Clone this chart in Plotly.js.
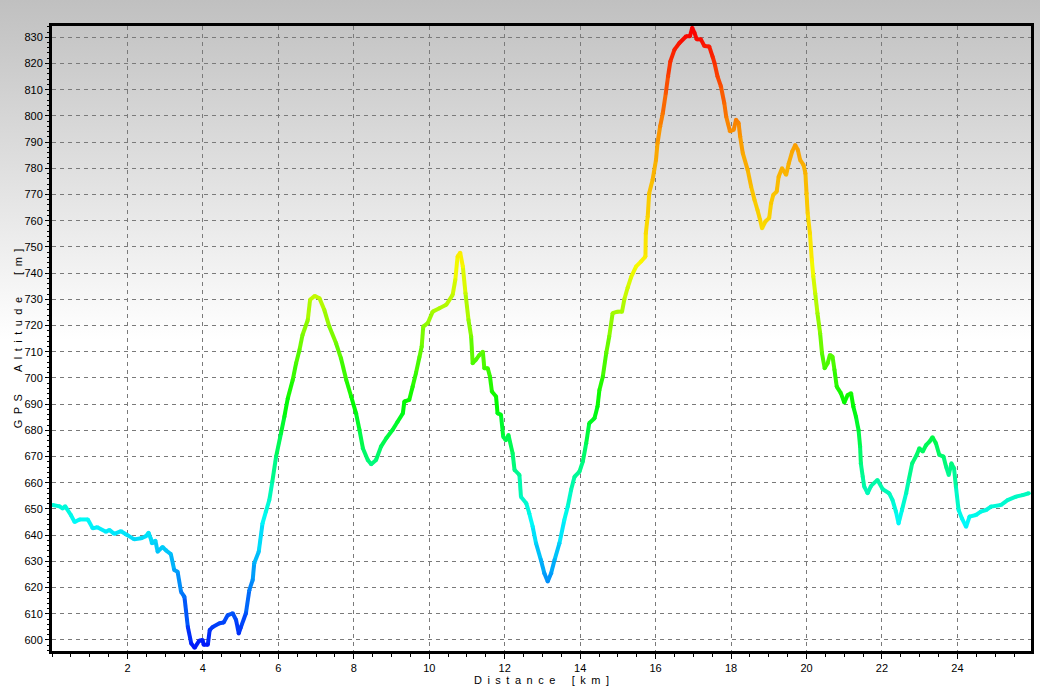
<!DOCTYPE html>
<html>
<head>
<meta charset="utf-8">
<script src="https://cdn.plot.ly/plotly-3.0.1.min.js"></script>
<style>
  html, body { margin: 0; padding: 0; }
  body { width: 1040px; height: 686px; background: linear-gradient(to bottom, #c0c0c0 0px, #ffffff 340px, #ffffff 686px); }
  #chart { width: 1040px; height: 686px; }
</style>
</head>
<body>
<div id="chart"></div>
<script>
// Distance along the track (km)
const distanceKm = [
  0.02,0.2,0.28,0.35,0.5,0.6,0.73,0.95,1.08,1.2,1.43,1.52,1.65,1.83,2.0,2.18,2.36,2.49,2.56,2.62,2.65,2.74,2.8,2.93,3.02,3.15,3.24,3.33,3.42,3.51,3.6,3.69,3.78,3.9,3.99,4.02,4.13,4.18,4.26,4.44,4.55,4.66,4.79,4.88,4.95,5.01,5.14,5.23,5.32,5.36,5.48,5.58,5.67,5.76,5.84,
  5.94,6.07,6.16,6.25,6.38,6.47,6.56,6.64,6.78,6.84,6.96,7.09,7.22,7.35,7.53,7.66,7.8,7.93,8.06,8.15,8.24,8.37,8.46,8.59,8.72,8.86,9.03,9.16,9.3,9.34,9.47,9.56,9.65,9.74,9.8,9.84,9.96,
  10.09,10.27,10.45,10.62,10.69,10.75,10.82,10.89,10.96,11.04,11.11,11.15,11.24,11.33,11.42,11.46,11.55,11.61,11.66,11.77,11.81,11.9,11.96,12.03,12.1,12.21,12.26,12.39,12.43,12.57,12.65,12.74,12.83,12.96,13.05,13.14,13.23,13.32,13.45,13.58,13.67,13.76,13.85,13.98,
  14.07,14.16,14.24,14.38,14.46,14.51,14.6,14.69,14.77,14.86,14.99,15.11,15.17,15.26,15.35,15.48,15.61,15.73,15.74,15.79,15.83,15.92,16.01,16.05,16.12,16.19,16.27,16.33,16.39,16.5,16.63,16.81,16.91,16.97,17.03,17.09,17.2,17.29,17.42,17.51,17.56,17.64,17.73,17.82,17.87,17.97,
  18.07,18.13,18.2,18.24,18.31,18.44,18.53,18.62,18.7,18.77,18.82,18.91,19.01,19.06,19.12,19.21,19.26,19.35,19.46,19.53,19.62,19.7,19.77,19.83,19.92,19.97,20.0,20.03,20.09,20.14,20.18,20.23,20.29,20.36,20.41,20.48,20.56,20.62,20.69,20.74,20.8,20.91,21.0,21.09,21.18,
  21.24,21.31,21.38,21.42,21.44,21.49,21.53,21.62,21.71,21.88,22.02,22.19,22.28,22.37,22.44,22.53,22.64,22.71,22.8,22.92,22.99,23.08,23.17,23.26,23.34,23.43,23.52,23.63,23.7,23.77,23.84,23.91,23.96,24.03,24.12,24.23,24.32,24.49,24.62,24.76,24.89,25.15,25.33,25.55,25.73,25.89
];
// GPS altitude (m)
const altitudeM = [
  651.5,651,650.2,651,647.7,645,646,646,642.6,643,641.3,642,640.5,641.5,640,638.4,638.8,639.6,640.9,638.6,636.9,637.9,633.7,635.5,634.2,632.8,626.7,626,618.4,616.5,605,598.7,597,599.7,600,598.2,598.2,603.8,605,606.4,606.7,609.5,610.2,607.6,602.5,605,610.2,619,622.9,629.3,633.7,644.5,649,653.4,660.4,
  670,678.9,685.2,692.2,699.2,705.6,710.7,716.4,722.1,729.8,731.3,730.4,725.9,719.6,713.2,707.5,699.2,692.9,686.5,680.2,673.2,668.7,667.1,668.7,673.8,677,680.2,683.3,686.5,691,691.6,696.7,702,708,712,719.6,720.9,
  725.3,726.6,727.9,731.7,737.4,746.3,747.8,742.5,732.3,722.1,715.8,705.6,707,708.8,710,703.7,703.7,700.5,694.8,692.9,686.5,686,677.6,676.2,678.2,671.2,664.9,663,654.7,652.2,648.4,643.3,636.9,630.5,625.5,622.3,625.5,630.5,636.9,645.8,650.9,657.3,662.3,664.2,
  668.1,675.1,682.7,684.6,689.1,695.4,700.5,709.4,715.8,724.7,725.3,725.3,730,734.5,738.5,742.5,744.4,746.3,755.2,761.6,770.5,775.6,783.2,789.6,796,801,808.7,815.1,820.8,825.3,827.8,830.4,830.4,833.6,831.7,829.2,829.2,826.7,826.5,822.6,820.2,815.1,811.3,804.9,799.8,794.1,
  794.7,798.5,797.3,792.2,785.8,779.4,773.1,768,764.1,760.3,757.1,759.7,761,766.7,769.9,771.1,776.8,780,777.5,781.9,786.4,788.9,787,783.2,781.3,778.1,770.5,762.9,755.2,745,738.7,732.3,724.7,717.1,709.4,703.7,705.6,708.8,708.1,703.1,696.7,694.2,690.6,693.5,694.2,
  689.1,685.2,680,673.8,667.4,662.3,658.5,656,658.8,661.1,657.5,656,653.4,649,644.5,649.6,656,661.1,667.4,670.6,673.2,671.9,674.4,675.7,677.4,675.1,670.6,670,666.1,663,667.4,665.5,658.5,649.6,646.4,643.2,647.1,647.7,649,649.6,650.9,651.5,653.4,654.7,655.3,656
];
// Tick values / labels
const xTickVals = [2,4,6,8,10,12,14,16,18,20,22,24];
const xTickText = ['2','4','6','8','10','12','14','16','18','20','22','24'];
const yTickVals = [600,610,620,630,640,650,660,670,680,690,700,710,720,730,740,750,760,770,780,790,800,810,820,830];
const xTitle = 'Distance [km]';
const yTitle = 'GPS Altitude [m]';

// Colour of the line as a function of altitude (hue ramp blue -> red)
const hueStops = [[597,235],[645,180],[690,120],[745,58],[790,38],[833,0]];
function hueFor(a) {
  if (a <= hueStops[0][0]) return hueStops[0][1];
  for (let i = 1; i < hueStops.length; i++) {
    if (a <= hueStops[i][0]) {
      const [a0,h0] = hueStops[i-1], [a1,h1] = hueStops[i];
      return h0 + (h1-h0)*(a-a0)/(a1-a0);
    }
  }
  return hueStops[hueStops.length-1][1];
}
function colorFor(a) { return 'hsl(' + Math.round(hueFor(a)) + ',100%,49%)'; }

// Build segment traces grouped by colour
const groups = {};
for (let i = 0; i < distanceKm.length - 1; i++) {
  const c = colorFor((altitudeM[i] + altitudeM[i+1]) / 2);
  if (!groups[c]) groups[c] = {x: [], y: []};
  groups[c].x.push(distanceKm[i], distanceKm[i+1], null);
  groups[c].y.push(altitudeM[i], altitudeM[i+1], null);
}
const traces = Object.keys(groups).map(c => ({
  type: 'scatter', mode: 'lines', x: groups[c].x, y: groups[c].y,
  line: {color: c, width: 4}, hoverinfo: 'skip', showlegend: false
}));
traces.push({
  type: 'scatter', mode: 'markers', x: distanceKm, y: altitudeM,
  marker: {size: 4, color: altitudeM.map(colorFor), line: {width: 0}},
  showlegend: false, hoverinfo: 'x+y'
});

// letter-spaced titles (as in the original rendering)
const spaced = (s, wordGap) => s.split(' ').map(w => w.split('').join('\u2002')).join(wordGap);
const font = {family: 'Liberation Sans, Arial, sans-serif', size: 11, color: '#000'};

const layout = {
  width: 1040, height: 686,
  margin: {l: 52, r: 9, t: 26, b: 35},
  paper_bgcolor: 'rgba(0,0,0,0)',
  plot_bgcolor: 'rgba(0,0,0,0)',
  font: font,
  showlegend: false,
  xaxis: {
    range: [0, 25.95], tickmode: 'array', tickvals: xTickVals, ticktext: xTickText,
    ticks: 'outside', ticklen: 5, tickcolor: '#000', tickwidth: 1,
    minor: {dtick: 0.5, tick0: 0, ticks: 'outside', ticklen: 3, tickcolor: '#000', showgrid: false},
    showgrid: true, gridcolor: '#7a7a7a', gridwidth: 1, griddash: '4px,4px',
    showline: true, linecolor: '#000', linewidth: 3, mirror: true,
    zeroline: false, tickfont: font,
    title: {text: spaced(xTitle, '\u2002\u2002\u2002'), font: font, standoff: 2}
  },
  yaxis: {
    range: [595.8, 834.3], tickmode: 'array', tickvals: yTickVals,
    ticks: 'outside', ticklen: 4, tickcolor: '#000', tickwidth: 1,
    minor: {dtick: 2, tick0: 600, ticks: 'outside', ticklen: 2, tickcolor: '#000', showgrid: false},
    showgrid: true, gridcolor: '#7a7a7a', gridwidth: 1, griddash: '4px,4px',
    showline: true, linecolor: '#000', linewidth: 3, mirror: true,
    zeroline: false, tickfont: font,
    title: {text: spaced(yTitle, '\u2002\u2002\u2002\u2002'), font: font, standoff: 0}
  }
};

Plotly.newPlot('chart', traces, layout, {displayModeBar: false, staticPlot: true});
</script>
</body>
</html>
